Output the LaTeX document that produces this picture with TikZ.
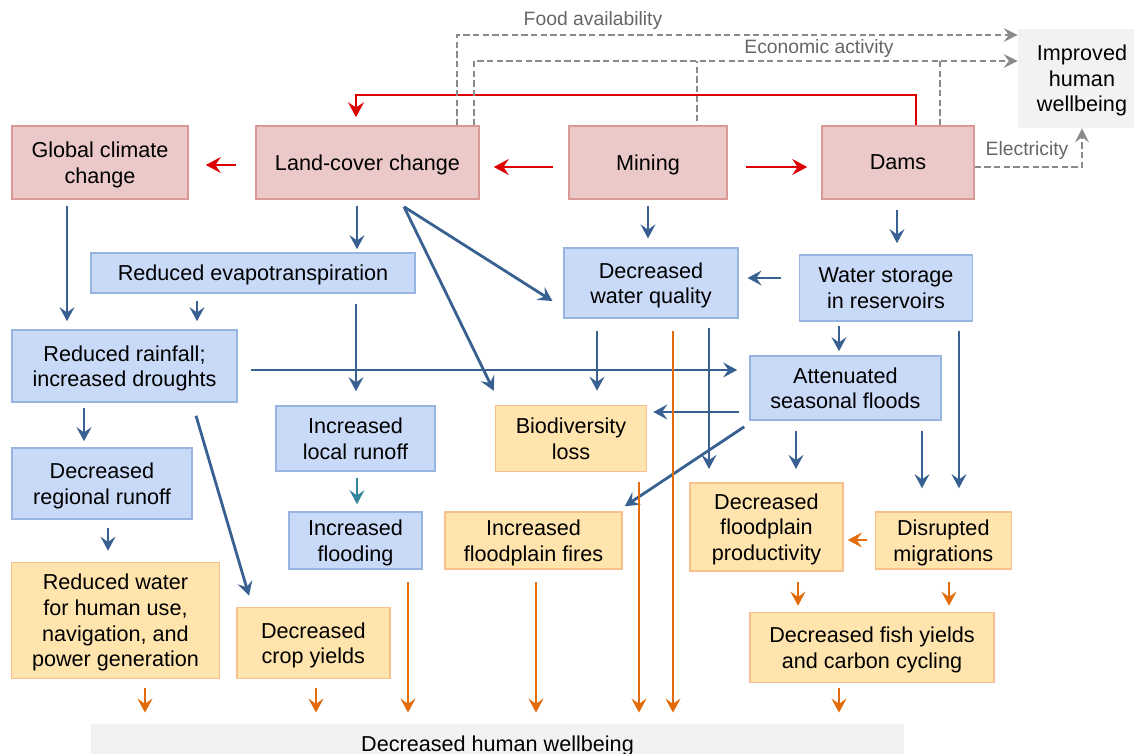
\documentclass[tikz,border=0pt]{standalone}
\usepackage{fontspec}
\setmainfont{Liberation Sans}
\usepackage{tikz}
\usetikzlibrary{arrows.meta, calc, positioning}
\definecolor{causeFill}{HTML}{ECC9C9}
\definecolor{causeLine}{HTML}{DA9896}
\definecolor{procFill}{HTML}{C9DAF8}
\definecolor{procLine}{HTML}{98B4E0}
\definecolor{impactFill}{HTML}{FFE4AD}
\definecolor{impactLine}{HTML}{F8C08C}
\definecolor{humanFill}{HTML}{F2F2F2}
\definecolor{flowBlue}{HTML}{386192}
\definecolor{flowTeal}{HTML}{31869B}
\definecolor{flowOrange}{HTML}{E36C0A}
\definecolor{flowRed}{HTML}{DD0000}
\definecolor{flowGray}{HTML}{8A8A8A}
\definecolor{labelGray}{HTML}{666666}
\tikzstyle{cause} = [rectangle, draw=causeLine, fill=causeFill, line width=0.9pt,
    align=center, inner sep=0pt, text depth=-1pt]
\tikzstyle{process} = [rectangle, draw=procLine, fill=procFill, line width=0.9pt,
    align=center, inner sep=0pt, text depth=-1pt]
\tikzstyle{impact} = [rectangle, draw=impactLine, fill=impactFill, line width=0.9pt,
    align=center, inner sep=0pt, text depth=-1pt]
\tikzstyle{human} = [rectangle, fill=humanFill, align=center, inner sep=0pt, text depth=-1pt]
\tikzstyle{flowLabel} = [text=labelGray, font=\fontsize{11}{13}\selectfont, inner sep=0pt]
\tikzstyle{blueLine} = [draw=flowBlue, line width=1.6pt, -{Stealth[length=8pt, width=8.5pt, inset=3pt]}]
\tikzstyle{tealLine} = [draw=flowTeal, line width=1.6pt, -{Stealth[length=8pt, width=8.5pt, inset=3pt]}]
\tikzstyle{orangeLine} = [draw=flowOrange, line width=1.4pt, -{Stealth[length=8pt, width=8.5pt, inset=3pt]}]
\tikzstyle{redLine} = [draw=flowRed, line width=1.7pt, -{Stealth[length=8.5pt, width=9pt, inset=3pt]}]
\tikzstyle{dashLine} = [draw=flowGray, line width=1.1pt, dash pattern=on 3.5pt off 2pt,
    -{Stealth[length=8pt, width=8pt, inset=3pt]}]

\begin{document}
\begin{tikzpicture}[x=0.02cm, y=-0.02cm,
    font=\fontsize{12.3}{14.6}\selectfont,
    gaps/.style 2 args={shorten <=#1cm, shorten >=#2cm}
    ]
    \useasboundingbox (0,0) rectangle (1134,754);

    % Nodes
    \node [cause, minimum width=3.52cm, minimum height=1.46cm] (climate) at (100,162.5) {Global climate\\change};
    \node [cause, minimum width=4.46cm, minimum height=1.46cm] (landcover) at (367.5,162.5) {Land-cover change};
    \node [cause, minimum width=3.16cm, minimum height=1.46cm] (mining) at (648,162.5) {Mining};
    \node [cause, minimum width=3.04cm, minimum height=1.46cm] (dams) at (898,162.5) {Dams};
    \node [human, minimum width=2.56cm, minimum height=1.98cm] (improved) at (1082,78.5) {Improved\\human\\wellbeing};

    \node [process, minimum width=6.48cm, minimum height=0.80cm] (evap) at (253,273) {Reduced evapotranspiration};
    \node [process, minimum width=3.47cm, minimum height=1.39cm] (quality) at (651,283) {Decreased\\water quality};
    \node [process, minimum width=3.46cm, minimum height=1.32cm] (storage) at (886,288) {Water storage\\in reservoirs};
    \node [process, minimum width=4.51cm, minimum height=1.44cm] (rainfall) at (124.5,366) {Reduced rainfall;\\increased droughts};
    \node [process, minimum width=3.82cm, minimum height=1.28cm] (floods) at (845.5,388) {Attenuated\\seasonal floods};
    \node [process, minimum width=3.18cm, minimum height=1.30cm] (localRunoff) at (355.5,438.5) {Increased\\local runoff};
    \node [process, minimum width=3.60cm, minimum height=1.42cm] (regRunoff) at (102,483.5) {Decreased\\regional runoff};
    \node [process, minimum width=2.66cm, minimum height=1.14cm] (flooding) at (355.5,540.5) {Increased\\flooding};

    \node [impact, minimum width=3.02cm, minimum height=1.32cm] (biodiv) at (571,438.5) {Biodiversity\\loss};
    \node [impact, minimum width=3.54cm, minimum height=1.14cm] (fires) at (533.5,540.5) {Increased\\floodplain fires};
    \node [impact, minimum width=3.06cm, minimum height=1.77cm] (productivity) at (766.5,527) {Decreased\\floodplain\\productivity};
    \node [impact, minimum width=2.72cm, minimum height=1.14cm] (migrations) at (943.3,540.5) {Disrupted\\migrations};
    \node [impact, minimum width=4.16cm, minimum height=2.32cm] (water) at (115.5,620.5) {Reduced water\\for human use,\\navigation, and\\power generation};
    \node [impact, minimum width=3.06cm, minimum height=1.42cm] (crops) at (313.3,643) {Decreased\\crop yields};
    \node [impact, minimum width=4.88cm, minimum height=1.40cm] (fish) at (872,647.5) {Decreased fish yields\\and carbon cycling};

    \node [human, minimum width=16.26cm, minimum height=0.80cm] (decreased) at (497.5,744) {Decreased human wellbeing};

    \node [flowLabel] (foodLabel) at (593,21) {Food availability};
    \node [flowLabel] (econLabel) at (819,49) {Economic activity};
    \node [flowLabel] (powerLabel) at (1027,151) {Electricity};

    % Edges
    \coordinate (redTurn) at (356,95);
    \draw [redLine, gaps={0}{0.16}] (916,0 |- dams.north) |- (redTurn) -- (356,0 |- landcover.north);
    \draw [redLine, gaps={0.38}{0.34}] ([yshift=-0.05cm]landcover.west) -- ([yshift=-0.05cm]climate.east);
    \draw [redLine, gaps={0.3}{0.28}] ([yshift=-0.09cm]mining.west) -- ([yshift=-0.09cm]landcover.east);
    \draw [redLine, gaps={0.36}{0.28}] ([yshift=-0.09cm]mining.east) -- ([yshift=-0.09cm]dams.west);

    \coordinate (econMining) at (697,61);
    \coordinate (econDams) at (940,61);
    \draw [dashLine] (457,0 |- landcover.north) |- (improved.west |- 0,35);
    \draw [dashLine] (474,0 |- landcover.north) |- (improved.west |- 0,61);
    \draw [dashLine, -] ([yshift=0.08cm]697,0 |- mining.north) -- (econMining);
    \draw [dashLine, -] (940,0 |- dams.north) -- (econDams);
    \draw [dashLine] ([yshift=-0.09cm]dams.east) -| (improved.south);

    \draw [blueLine, gaps={0.12}{0.16}] (67,0 |- climate.south) -- (67,0 |- rainfall.north);
    \draw [blueLine, gaps={0.12}{0.06}] (357,0 |- landcover.south) -- (357,0 |- evap.north);
    \coordinate (lcFork) at ($(landcover.south)+(36.5,7)$);
    \draw [blueLine] (lcFork) -- ($(quality.west)+(-11,18)$);
    \draw [blueLine] (lcFork) -- ($(biodiv.north west)+(-1,-14)$);
    \draw [blueLine, gaps={0.14}{0.16}] (197,0 |- evap.south) -- (197,0 |- rainfall.north);
    \draw [blueLine, gaps={0.2}{0.28}] (356,0 |- evap.south) -- (356,0 |- localRunoff.north);
    \draw [blueLine, gaps={0.12}{0.18}] (648,0 |- mining.south) -- (648,0 |- quality.north);
    \draw [blueLine, gaps={0.2}{0.22}] (897,0 |- dams.south) -- (897,0 |- storage.north);
    \draw [blueLine, gaps={0.35}{0.18}] (storage.west |- 0,278) -- (quality.east |- 0,278);
    \draw [blueLine, gaps={0.08}{0.08}] (839,0 |- storage.south) -- (839,0 |- floods.north);
    \draw [blueLine, gaps={0.18}{0.46}] (959,0 |- storage.south) -- (959,0 |- migrations.north);
    \draw [blueLine, gaps={0.26}{0.24}] (rainfall.east |- 0,370) -- (floods.west |- 0,370);
    \draw [blueLine, gaps={0.24}{0.28}] (597,0 |- quality.south) -- (597,0 |- biodiv.north);
    \draw [blueLine, gaps={0.18}{0.26}] (709,0 |- quality.south) -- (709,0 |- productivity.north);
    \draw [blueLine, gaps={0.21}{0.12}] (floods.west |- 0,412) -- (biodiv.east |- 0,412);
    \draw [blueLine] ($(floods.south west)+(-5,6)$) -- ($(fires.north east)+(2,-5)$);
    \draw [blueLine, gaps={0.2}{0.26}] (796,0 |- floods.south) -- (796,0 |- productivity.north);
    \draw [blueLine, gaps={0.2}{0.46}] (922,0 |- floods.south) -- (922,0 |- migrations.north);
    \draw [blueLine, gaps={0.1}{0.12}] (84,0 |- rainfall.south) -- (84,0 |- regRunoff.north);
    \draw [blueLine] ($(rainfall.south east)+(-42,13)$) -- ($(crops.north west)+(13,-11)$);
    \draw [blueLine, gaps={0.16}{0.22}] (108,0 |- regRunoff.south) -- (108,0 |- water.north);
    \draw [tealLine, gaps={0.12}{0.14}] (357,0 |- localRunoff.south) -- (357,0 |- flooding.north);

    \draw [orangeLine, gaps={0.15}{0.08}] (migrations.west |- 0,540) -- (productivity.east |- 0,540);
    \draw [orangeLine, gaps={0.2}{0.12}] (798,0 |- productivity.south) -- (798,0 |- fish.north);
    \draw [orangeLine, gaps={0.24}{0.12}] (949,0 |- migrations.south) -- (949,0 |- fish.north);
    \draw [orangeLine, gaps={0.18}{0.22}] (145,0 |- water.south) -- (145,0 |- decreased.north);
    \draw [orangeLine, gaps={0.18}{0.22}] (316,0 |- crops.south) -- (316,0 |- decreased.north);
    \draw [orangeLine, gaps={0.24}{0.22}] (408,0 |- flooding.south) -- (408,0 |- decreased.north);
    \draw [orangeLine, gaps={0.24}{0.22}] (536,0 |- fires.south) -- (536,0 |- decreased.north);
    \draw [orangeLine, gaps={0.2}{0.22}] (639,0 |- biodiv.south) -- (639,0 |- decreased.north);
    \draw [orangeLine, gaps={0.24}{0.22}] (673,0 |- quality.south) -- (673,0 |- decreased.north);
    \draw [orangeLine, gaps={0.1}{0.22}] (839,0 |- fish.south) -- (839,0 |- decreased.north);
\end{tikzpicture}
\end{document}
